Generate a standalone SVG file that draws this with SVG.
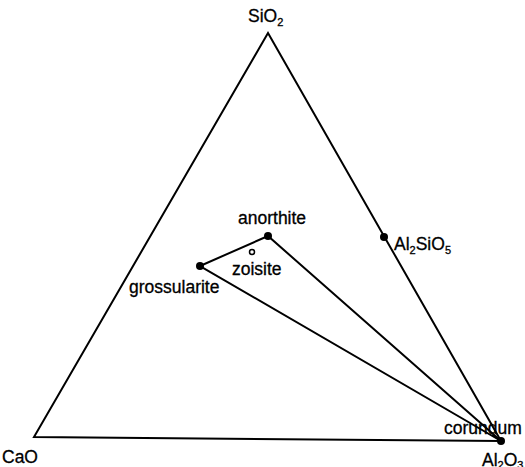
<svg xmlns="http://www.w3.org/2000/svg" width="525" height="467" viewBox="0 0 525 467">
<style>
text{font-family:"Liberation Sans",Arial,sans-serif;font-size:17.5px;fill:#000;stroke:#000;stroke-width:0.3}
.sub{font-size:11px}
.ln{stroke:#000;stroke-width:2;fill:none}
</style>
<rect width="525" height="467" fill="#fff"/>
<g id="connectors">
<path class="ln" d="M268,33 L34,437 L501,441 Z"/>
<path class="ln" d="M200,266 L268,236 L501,441 Z"/>
</g>
<g id="SiO2"><text x="248" y="22">SiO<tspan class="sub" dy="4">2</tspan></text></g>
<g id="CaO"><text x="2" y="463">CaO</text></g>
<g id="Al2O3"><circle cx="501" cy="441" r="4"/><text x="482" y="466">Al<tspan class="sub" dy="3">2</tspan><tspan dy="-3">O</tspan><tspan class="sub" dy="3">3</tspan></text></g>
<g id="Al2SiO5"><circle cx="384" cy="237" r="4"/><text x="394" y="250">Al<tspan class="sub" dy="4">2</tspan><tspan dy="-4">SiO</tspan><tspan class="sub" dy="4">5</tspan></text></g>
<g id="anorthite"><circle cx="268" cy="236" r="4"/><text x="238" y="224">anorthite</text></g>
<g id="grossularite"><circle cx="200" cy="266" r="4"/><text x="129" y="293">grossularite</text></g>
<g id="zoisite"><circle cx="252" cy="252" r="2.5" fill="#fff" stroke="#000" stroke-width="1.5"/><text x="232" y="275">zoisite</text></g>
<g id="corundum"><text x="444" y="434">corundum</text></g>
</svg>
